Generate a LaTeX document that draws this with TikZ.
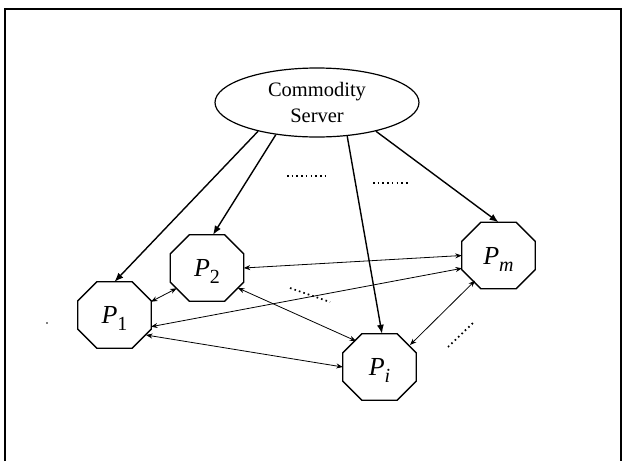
\documentclass[tikz,border=0pt]{standalone}
\usepackage{fontspec}
\setmainfont{Liberation Serif}
\usetikzlibrary{arrows.meta,calc,shapes.geometric}
\newcommand{\plab}[1]{{\fontsize{26}{26}\selectfont\itshape P}\raisebox{-7pt}[0pt][0pt]{\fontsize{20}{20}\selectfont #1}}
\newcommand{\octo}[3]{%
  \node[pnode] (#1) at (#2) {#3};
  \draw[octline] ($(#1.north west)+(19,0)$) -- ($(#1.north east)+(-19,0)$)
    -- ($(#1.north east)+(0,19)$) -- ($(#1.south east)+(0,-19)$)
    -- ($(#1.south east)+(-19,0)$) -- ($(#1.south west)+(19,0)$)
    -- ($(#1.south west)+(0,-19)$) -- ($(#1.north west)+(0,19)$) -- cycle;}
\tikzset{
  pnode/.style={rectangle, minimum width=73pt, minimum height=66pt, inner sep=0pt},
  octline/.style={line width=1.3pt, line join=miter},
  srvnode/.style={ellipse, draw, line width=1.2pt, minimum width=204pt, minimum height=69pt,
    inner sep=0pt, align=center, font=\fontsize{20.5}{26.7}\selectfont},
  feed/.style={line width=1.4pt, -{Latex[length=9pt,width=7pt]}},
  bi/.style={line width=0.8pt, {Stealth[length=6.5pt,width=5pt]}-{Stealth[length=6.5pt,width=5pt]}},
  dots/.style={line width=1.7pt, dash pattern=on 1.6pt off 3.1pt},
  frame/.style={line width=1.3pt}
}
\begin{document}
\begin{tikzpicture}[x=1pt,y=-1pt]
\useasboundingbox (0,0) rectangle (624,461);
% frame
\draw[frame] (5,461) -- (5,9) -- (621,9) -- (621,461);
\draw[line width=1pt] (4,9) -- (4,461);
% server
\node[srvnode] (srv) at (317,102.5) {Commodity\\Server};
% processors
\octo{p1}{114.5,315}{\plab{1}}
\octo{p2}{207,268}{\plab{2}}
\octo{pi}{379.5,367}{\plab{\itshape i}}
\octo{pm}{498.5,255.5}{\plab{\itshape m}}
% server arrows
\draw[feed] (srv.206.6) -- (p1.north);
\draw[feed] (srv.218) -- ($(p2.north)+(6,0)$);
\draw[feed] (srv.312) -- ($(pi.north)+(2.5,0)$);
\draw[feed] (srv.334) -- (pm.north);
% peer links
\draw[bi] ($(p1)+(36.5,-13.3)$) -- ($(p2)+(-30.3,20.3)$);
\draw[bi] (p2.east) -- (pm.west);
\draw[bi] ($(p1)+(36.5,11.7)$) -- ($(pm)+(-36.5,12.8)$);
\draw[bi] ($(p1)+(31.5,20)$) -- (pi.west);
\draw[bi] ($(p2)+(31,20)$) -- ($(pi)+(-23.5,-26)$);
\draw[bi] ($(pm)+(-23.5,25.2)$) -- ($(pi)+(30.5,-22)$);
% ellipsis marks
\draw[dots] (287,176) -- (325,176);
\draw[dots] (373,182.7) -- (410,182.7);
\draw[dots] (290,288) -- (330,302);
\draw[dots] (448,347) -- (474,322);
\fill (47,323) circle (0.8);
\end{tikzpicture}
\end{document}
